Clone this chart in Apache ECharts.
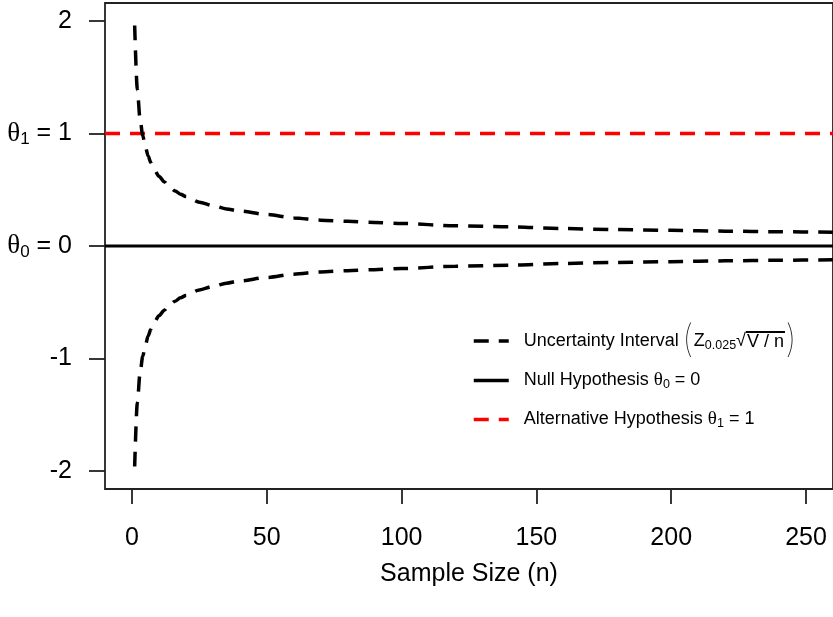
<!DOCTYPE html>
<html>
<head>
<meta charset="utf-8">
<script src="https://cdn.jsdelivr.net/npm/echarts@6/dist/echarts.min.js"></script>
<style>
  html, body { margin: 0; padding: 0; background: #fff; }
  #chart { width: 833px; height: 617px; }
</style>
</head>
<body>
<div id="chart"></div>
<script>
// Sample sizes and the half-width of the uncertainty interval at each one
const sampleSize = [1, 2, 3, 4, 5, 6, 7, 8, 10, 12, 14, 16, 18, 20, 25, 30, 35, 40, 50, 60, 70, 80, 90, 100, 120, 140, 160, 180, 200, 220, 240, 260];
const upperBound = [1.96, 1.39, 1.13, 0.98, 0.88, 0.80, 0.74, 0.69, 0.62, 0.57, 0.52, 0.49, 0.46, 0.44, 0.39, 0.36, 0.33, 0.31, 0.28, 0.25, 0.23, 0.22, 0.21, 0.20, 0.18, 0.17, 0.155, 0.146, 0.139, 0.132, 0.127, 0.122];
const lowerBound = [-1.96, -1.39, -1.13, -0.98, -0.88, -0.80, -0.74, -0.69, -0.62, -0.57, -0.52, -0.49, -0.46, -0.44, -0.39, -0.36, -0.33, -0.31, -0.28, -0.25, -0.23, -0.22, -0.21, -0.20, -0.18, -0.17, -0.155, -0.146, -0.139, -0.132, -0.127, -0.122];

// Horizontal reference lines (hypothesised values) across the x range
const hLineX = [-10, 260];
const nullValue = 0;
const altValue = 1;

// Axis ticks
const xTicks = [0, 50, 100, 150, 200, 250];
const yTicks = [-2, -1, 0, 1, 2];
const yTickLabels = ['-2', '-1', '{t|θ}{s|0}{n| = 0}', '{t|θ}{s|1}{n| = 1}', '2'];

const seriesNames = ['Uncertainty Interval', 'Null Hypothesis', 'Alternative Hypothesis'];

const zip = (xs, ys) => xs.map((x, i) => [x, ys[i]]);

const chart = echarts.init(document.getElementById('chart'), null, { renderer: 'canvas' });

const sansFont = '"Liberation Sans", Arial, Helvetica, sans-serif';
const serifFont = '"Liberation Serif", "DejaVu Serif", serif';
const thinFont = 'Inter, "Liberation Sans", sans-serif';
const ink = '#000';
const dash = [15, 10];

// thin rule drawn along the top of the radicand
const overline = {
  type: 'linear', x: 0, y: 0, x2: 0, y2: 1,
  colorStops: [
    { offset: 0, color: '#000' },
    { offset: 0.08, color: '#000' },
    { offset: 0.081, color: 'rgba(0,0,0,0)' },
    { offset: 1, color: 'rgba(0,0,0,0)' }
  ]
};

const legendRich = {
  pl: { fontFamily: thinFont, fontSize: 38, fontWeight: 100, color: '#222', padding: [0, 0, 0, 3] },
  pr: { fontFamily: thinFont, fontSize: 38, fontWeight: 100, color: '#222' },
  z: { fontFamily: sansFont, fontSize: 18, color: ink },
  sub: { fontFamily: sansFont, fontSize: 12.5, color: ink, padding: [9, 0, 0, 0] },
  rad: { fontFamily: sansFont, fontSize: 18, color: ink },
  ov: { fontFamily: sansFont, fontSize: 18, color: ink, backgroundColor: overline, padding: [2, 1, 0, 1] },
  t: { fontFamily: serifFont, fontSize: 19, color: ink },
  s: { fontFamily: sansFont, fontSize: 12.5, color: ink, padding: [8, 0, 0, 0] },
  n: { fontFamily: sansFont, fontSize: 18, color: ink }
};

const legendLabels = {
  'Uncertainty Interval': 'Uncertainty Interval{pl|(}{z|Z}{sub|0.025}{rad|√}{ov|V / n}{pr|)}',
  'Null Hypothesis': 'Null Hypothesis {t|θ}{s|0}{n| = 0}',
  'Alternative Hypothesis': 'Alternative Hypothesis {t|θ}{s|1}{n| = 1}'
};

function makeLegend(name, top, lineType) {
  return {
    data: [name],
    orient: 'vertical',
    left: 472,
    top: top,
    padding: 0,
    itemWidth: 35,
    itemHeight: 14,
    selectedMode: false,
    itemStyle: { color: 'rgba(0,0,0,0)', borderWidth: 0, opacity: 0 },
    lineStyle: { width: 3.5, type: lineType, cap: 'butt' },
    formatter: (n) => legendLabels[n],
    textStyle: {
      fontFamily: sansFont,
      fontSize: 18,
      color: ink,
      padding: [0, 0, 0, 10],
      rich: legendRich
    }
  };
}

const option = {
  animation: false,
  backgroundColor: '#fff',
  textStyle: { fontFamily: sansFont },
  grid: {
    left: 105,
    top: 3,
    width: 731,
    height: 486,
    show: true,
    borderColor: '#222',
    borderWidth: 1.8,
    backgroundColor: 'transparent'
  },
  legend: [
    makeLegend(seriesNames[0], 322, dash),
    makeLegend(seriesNames[1], 371, 'solid'),
    makeLegend(seriesNames[2], 410, dash)
  ],
  xAxis: {
    type: 'value',
    position: 'bottom',
    min: -10,
    max: 260,
    name: 'Sample Size (n)',
    nameLocation: 'middle',
    nameGap: 73,
    nameTextStyle: { fontFamily: sansFont, fontSize: 25, color: ink },
    axisLine: { show: false, onZero: false },
    axisTick: {
      show: true, inside: false, length: 15, customValues: xTicks,
      lineStyle: { color: '#222', width: 1.8 }
    },
    axisLabel: {
      show: true, customValues: xTicks, margin: 37,
      fontFamily: sansFont, fontSize: 25, color: ink
    },
    splitLine: { show: false }
  },
  yAxis: {
    type: 'value',
    position: 'left',
    min: -2.16,
    max: 2.16,
    axisLine: { show: false, onZero: false },
    axisTick: {
      show: true, inside: false, length: 16, customValues: yTicks,
      lineStyle: { color: '#222', width: 1.8 }
    },
    axisLabel: {
      show: true, customValues: yTicks, margin: 33,
      fontFamily: sansFont, fontSize: 25, color: ink,
      formatter: (v) => yTickLabels[yTicks.indexOf(Math.round(v))],
      rich: {
        t: { fontFamily: serifFont, fontSize: 27, color: ink },
        s: { fontFamily: sansFont, fontSize: 17, color: ink, padding: [12, 0, 0, 0] },
        n: { fontFamily: sansFont, fontSize: 25, color: ink }
      }
    },
    splitLine: { show: false }
  },
  series: [
    {
      name: seriesNames[0],
      type: 'line',
      data: zip(sampleSize, upperBound),
      symbol: 'none',
      smooth: 0.3,
      smoothMonotone: 'x',
      lineStyle: { color: '#000', width: 3.5, type: dash, cap: 'butt' },
      z: 3
    },
    {
      name: seriesNames[0],
      type: 'line',
      data: zip(sampleSize, lowerBound),
      symbol: 'none',
      smooth: 0.3,
      smoothMonotone: 'x',
      lineStyle: { color: '#000', width: 3.5, type: dash, cap: 'butt' },
      z: 3
    },
    {
      name: seriesNames[1],
      type: 'line',
      data: zip(hLineX, [nullValue, nullValue]),
      symbol: 'none',
      lineStyle: { color: '#000', width: 3, type: 'solid' },
      z: 2
    },
    {
      name: seriesNames[2],
      type: 'line',
      data: zip(hLineX, [altValue, altValue]),
      symbol: 'none',
      lineStyle: { color: '#ff0000', width: 3.5, type: dash, cap: 'butt' },
      z: 2
    }
  ]
};

chart.setOption(option);
</script>
</body>
</html>
